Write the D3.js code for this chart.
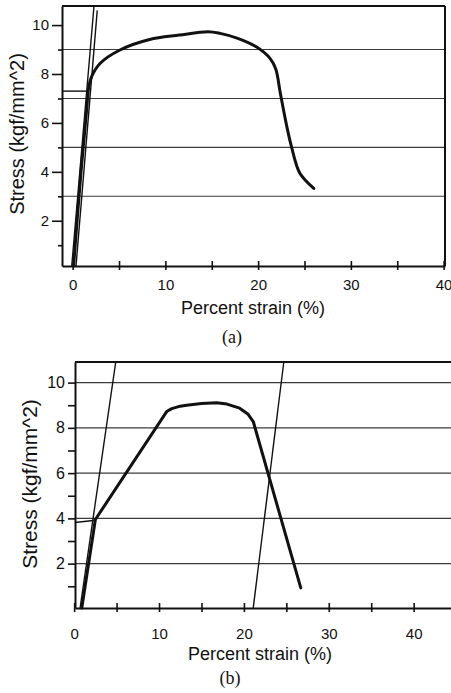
<!DOCTYPE html>
<html>
<head>
<meta charset="utf-8">
<script src="https://cdn.jsdelivr.net/npm/d3@7"></script>
<style>
  body { margin: 0; background: #fff; }
  svg { display: block; }
  text { font-family: "Liberation Sans", Arial, sans-serif; fill: #111; }
</style>
</head>
<body>
<div class="chart"></div>
<script>
const w = 451;
const h = 693;

// panel (a) data
const aCurveStrain = [0.1, 0.9, 1.5, 1.75, 2.05, 2.95, 5.1, 8.3, 11.5, 14.6, 15.9, 17.8, 19.8, 21.3, 21.9, 22.4, 23.1, 23.6, 24.5, 26.0];
const aCurveStress = [0.15, 4.0, 6.5, 7.5, 7.9, 8.43, 8.98, 9.41, 9.59, 9.73, 9.66, 9.46, 9.11, 8.63, 8.2, 7.2, 5.84, 5.02, 3.94, 3.32];
const aElastic1 = [[-0.1, 0.15], [2.3, 10.78]];
const aElastic2 = [[0.36, 0.15], [2.65, 10.6]];
const aYield = [[-1.15, 7.3], [1.55, 7.3]];
const aGrid = [3, 5, 7, 9];

// panel (b) data
const bCurveStrain = [0.9, 2.5, 10.9, 11.5, 12.3, 13.25, 15.0, 16.8, 18.0, 19.5, 20.5, 21.1, 26.7];
const bCurveStress = [0.04, 3.95, 8.72, 8.85, 8.94, 9.0, 9.08, 9.11, 9.05, 8.87, 8.6, 8.28, 0.93];
const bElastic1 = [[0.7, 0.04], [4.9, 10.91]];
const bElastic2 = [[21.1, 0.04], [24.7, 10.91]];
const bYield = [[0.1, 3.82], [2.5, 3.92]];
const bGrid = [2, 4, 6, 8, 10];

const xTickLabels = [0, 10, 20, 30, 40];
const xMinorTicks = [5, 15, 25, 35];
const yTickLabels = [2, 4, 6, 8, 10];
const yMinorTicks = [1, 3, 5, 7, 9];

const svg = d3.select('.chart').append('svg').attr('width', w).attr('height', h);

function drawPanel(o) {
  const x = d3.scaleLinear().domain(o.xDomain).range([o.left, o.right]);
  const y = d3.scaleLinear().domain(o.yDomain).range([o.bottom, o.top]);
  const g = svg.append('g');

  // gridlines
  g.selectAll('.grid')
    .data(o.grid)
    .enter()
    .append('line')
    .attr('x1', o.left)
    .attr('x2', o.right)
    .attr('y1', (d) => y(d))
    .attr('y2', (d) => y(d))
    .attr('stroke', '#3a3a3a')
    .attr('stroke-width', 1.1);

  // frame
  g.append('line').attr('x1', o.left).attr('x2', o.right).attr('y1', o.top).attr('y2', o.top)
    .attr('stroke', '#111').attr('stroke-width', 2);
  if (o.rightBorder) {
    g.append('line').attr('x1', o.right).attr('x2', o.right).attr('y1', o.top).attr('y2', o.bottom)
      .attr('stroke', '#111').attr('stroke-width', 2);
  }

  // y axis
  const yAxis = d3.axisLeft(y).tickValues(yTickLabels).tickSize(o.yTick).tickSizeOuter(0).tickPadding(3);
  const ya = g.append('g').attr('transform', `translate(${o.left},0)`).call(yAxis);
  ya.selectAll('text').style('font-size', o.yFont + 'px');
  const yMinor = d3.axisLeft(y).tickValues(yMinorTicks).tickSize(o.yMinorTick).tickSizeOuter(0).tickFormat('');
  const ym = g.append('g').attr('transform', `translate(${o.left},0)`).call(yMinor);
  ym.select('.domain').remove();

  // x axis
  const xAxis = d3.axisBottom(x).tickValues(xTickLabels).tickSize(4).tickSizeOuter(0).tickPadding(o.xPad);
  const xa = g.append('g').attr('transform', `translate(0,${o.bottom})`).call(xAxis);
  xa.selectAll('.tick line').attr('y1', -5);
  xa.selectAll('text').style('font-size', o.xFont + 'px');
  const xMinor = d3.axisBottom(x).tickValues(xMinorTicks).tickSize(4).tickSizeOuter(0).tickFormat('');
  const xm = g.append('g').attr('transform', `translate(0,${o.bottom})`).call(xMinor);
  xm.select('.domain').remove();
  xm.selectAll('.tick line').attr('y1', -5);

  [ya, ym, xa, xm].forEach((a) => {
    a.selectAll('line').attr('stroke', '#111').attr('stroke-width', 1.6);
    a.select('.domain').attr('stroke', '#111').attr('stroke-width', 2);
  });

  const line = d3.line().x((d) => x(d[0])).y((d) => y(d[1]));

  // elastic / offset lines
  [o.e1, o.e2, o.yieldLine].forEach((pts) => {
    g.append('path').attr('d', line(pts)).attr('fill', 'none')
      .attr('stroke', '#111').attr('stroke-width', 1.4);
  });

  // stress-strain curve
  const pts = o.strain.map((s, i) => [s, o.stress[i]]);
  g.append('path')
    .attr('d', line.curve(o.curve)(pts))
    .attr('fill', 'none')
    .attr('stroke', '#111')
    .attr('stroke-width', 3)
    .attr('stroke-linejoin', 'round')
    .attr('stroke-linecap', 'round');

  // labels
  g.append('text')
    .attr('x', o.xLabelX)
    .attr('y', o.xLabelY)
    .attr('text-anchor', 'middle')
    .style('font-size', o.labelFont + 'px')
    .text('Percent strain (%)');
  g.append('text')
    .attr('transform', `translate(${o.yLabelX},${o.yLabelY}) rotate(-90)`)
    .attr('text-anchor', 'middle')
    .style('font-size', o.yLabelFont + 'px')
    .text('Stress (kgf/mm^2)');
  g.append('text')
    .attr('x', o.capX)
    .attr('y', o.capY)
    .attr('text-anchor', 'middle')
    .style('font-family', '"Liberation Serif", "Times New Roman", serif')
    .style('font-size', '18px')
    .text(o.caption);
}

drawPanel({
  xDomain: [-1.15, 40.15], yDomain: [0.15, 10.78],
  left: 62, right: 445, top: 6, bottom: 266, rightBorder: true,
  grid: aGrid, e1: aElastic1, e2: aElastic2, yieldLine: aYield,
  strain: aCurveStrain, stress: aCurveStress, curve: d3.curveCatmullRom.alpha(0.5),
  yTick: 10, yMinorTick: 4, yFont: 15, xFont: 15, xPad: 9,
  xLabelX: 253, xLabelY: 314, labelFont: 18,
  yLabelX: 24, yLabelY: 134, yLabelFont: 20,
  capX: 232, capY: 343, caption: '(a)'
});

drawPanel({
  xDomain: [0.1, 44.4], yDomain: [0.04, 10.91],
  left: 75, right: 451, top: 362, bottom: 608, rightBorder: false,
  grid: bGrid, e1: bElastic1, e2: bElastic2, yieldLine: bYield,
  strain: bCurveStrain, stress: bCurveStress, curve: d3.curveLinear,
  yTick: 7, yMinorTick: 7, yFont: 16, xFont: 15, xPad: 16,
  xLabelX: 260, xLabelY: 660, labelFont: 18,
  yLabelX: 37, yLabelY: 484, yLabelFont: 21,
  capX: 230, capY: 684, caption: '(b)'
});
</script>
</body>
</html>
